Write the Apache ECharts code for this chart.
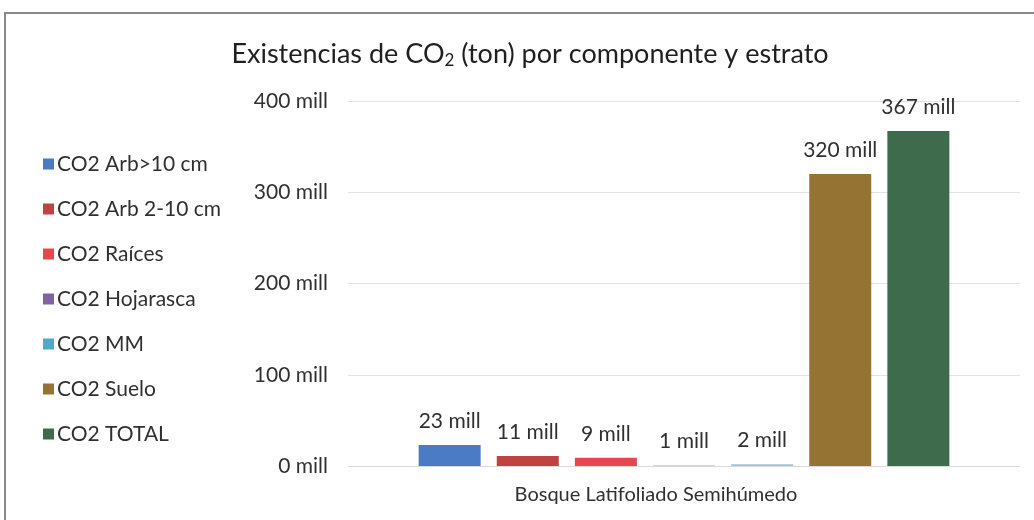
<!DOCTYPE html>
<html>
<head>
<meta charset="utf-8">
<script src="https://cdn.jsdelivr.net/npm/echarts@6/dist/echarts.min.js"></script>
<style>
  html, body { margin: 0; padding: 0; background: #fff; }
  #chart { width: 1034px; height: 520px; }
</style>
</head>
<body>
<div id="chart"></div>
<script>
// datos en millones de toneladas
var categories = ['Bosque Latifoliado Semihúmedo'];
var seriesNames = ['CO2 Arb>10 cm', 'CO2 Arb 2-10 cm', 'CO2 Raíces', 'CO2 Hojarasca', 'CO2 MM', 'CO2 Suelo', 'CO2 TOTAL'];
var seriesValues = [23, 11, 9, 1, 2, 320, 367];
var colors = ['#4a7bc4', '#be4342', '#e9474f', '#8064a2', '#4bacc6', '#957333', '#3d6b4b'];
var yTicks = [0, 100, 200, 300, 400];

var font = 'Lato, "Open Sans", sans-serif';
var series = [];
for (var i = 0; i < seriesNames.length; i++) {
  series.push({
    name: seriesNames[i],
    type: 'bar',
    barWidth: 62,
    barGap: '26%',
    data: [seriesValues[i]],
    itemStyle: { color: colors[i] },
    label: {
      show: true,
      position: 'top',
      distance: 13,
      formatter: function(p) { return p.value + ' mill'; },
      color: '#303030',
      fontFamily: font,
      fontSize: 21
    }
  });
}
// en el original las barras muy bajas se ven más claras
series[3].itemStyle.color = '#d8d2e6';
series[4].itemStyle.color = '#9dc3e0';

var myChart = echarts.init(document.getElementById('chart'));
var option = {
  animation: false,
  color: colors,
  title: {
    text: 'Existencias de CO{sub|2} (ton) por componente y estrato',
    left: 525,
    textAlign: 'center',
    top: 35,
    textStyle: {
      fontFamily: font,
      fontSize: 27,
      fontWeight: 'normal',
      color: '#1f1f1f',
      rich: {
        sub: { fontFamily: font, fontSize: 17, color: '#1f1f1f', verticalAlign: 'bottom', padding: [12, 0, 0, 0] }
      }
    }
  },
  legend: {
    orient: 'vertical',
    left: 38,
    top: 147,
    itemWidth: 11,
    itemHeight: 11,
    itemGap: 21,
    icon: 'rect',
    data: seriesNames.map(function(n, i) { return { name: n, itemStyle: { color: colors[i] } }; }),
    textStyle: { fontFamily: font, fontSize: 21, color: '#303030', lineHeight: 24, padding: [0, 0, 0, -2] }
  },
  grid: { left: 348, right: 14, top: 101, bottom: 54 },
  xAxis: {
    type: 'category',
    data: categories,
    axisTick: { show: false },
    axisLine: { lineStyle: { color: '#d9d9d9', width: 1 } },
    axisLabel: { fontFamily: font, fontSize: 20, color: '#303030', margin: 19, padding: [0, 56, 0, 0] }
  },
  yAxis: {
    type: 'value',
    min: yTicks[0],
    max: yTicks[yTicks.length - 1],
    interval: 100,
    axisLine: { show: false },
    axisTick: { show: false },
    splitLine: { lineStyle: { color: '#e3e3e3', width: 1 } },
    axisLabel: { fontFamily: font, fontSize: 21, color: '#303030', margin: 20, formatter: '{value} mill' }
  },
  graphic: [{
    type: 'rect',
    shape: { x: 5, y: 13, width: 1060, height: 540 },
    style: { fill: 'none', stroke: '#8a8a8a', lineWidth: 2 },
    silent: true
  }],
  series: series
};
myChart.setOption(option);
</script>
</body>
</html>
